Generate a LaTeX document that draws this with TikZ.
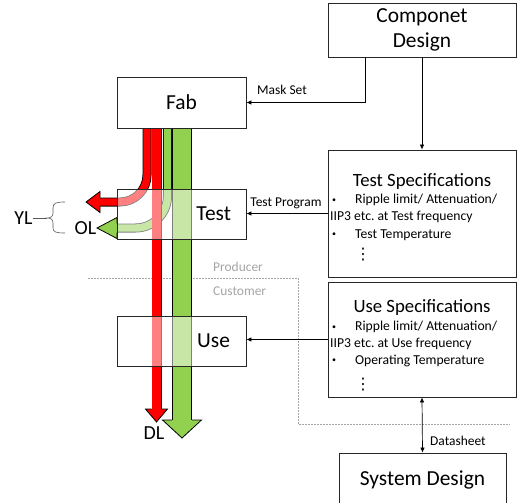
\documentclass[tikz,border=0pt]{standalone}
\usepackage{fontspec}
\setmainfont{Carlito}
\newfontfamily\dotsfont{DejaVu Sans}
\usetikzlibrary{arrows.meta,calc}

\definecolor{flowred}{RGB}{255,0,0}
\definecolor{flowgreen}{RGB}{146,208,80}
\definecolor{splitgray}{RGB}{165,165,165}

% small list bullet followed by the indent of the item text
\newcommand{\itembul}{\makebox[23bp][l]{\raisebox{1.6bp}{\fontsize{8}{8}\selectfont •}}}

\begin{document}
\frenchspacing
\begin{tikzpicture}[x=1bp,y=-1bp,
  box/.style={draw=black!85, line width=0.8bp, fill=white, rectangle, inner sep=0pt, text=black},
  seethru/.style={box, fill opacity=0.5, text opacity=1},
  big/.style={font=\fontsize{21.5}{25}\selectfont},
  spectitle/.style={font=\fontsize{18.8}{22}\selectfont, inner sep=0pt},
  spec/.style={font=\fontsize{13.7}{16}\selectfont, inner sep=0pt, anchor=west},
  vdotsnode/.style={font=\dotsfont\fontsize{16}{16}\selectfont, inner sep=0pt},
  small/.style={font=\fontsize{13.5}{16}\selectfont, inner sep=0pt},
  tag/.style={font=\fontsize{20}{24}\selectfont, inner sep=0pt},
  conn/.style={draw=black, line width=0.7bp, -{Latex[length=5bp,width=4.5bp]}},
  band/.style n args={2}{draw=black, line width=0.8bp, double=#1, double distance=#2},
  headline/.style={draw=black, line width=0.8bp, line join=miter},
]
\useasboundingbox (0,0) rectangle (519,503);
\clip (0,0) rectangle (519,503);

% producer / customer split
\draw[splitgray, line width=0.6bp, dash pattern=on 1.5bp off 1.5bp]
  (88,278) -- (298,278) -- (298,424) -- (510,424);
\node[small, text=splitgray, anchor=west] (prod) at (213,267) {Producer};
\node[small, text=splitgray, anchor=west] (cust) at (213,291) {Customer};

% overkill loss: green band bending out at test
\draw[band={flowgreen}{7.4bp}] (167.5,128) -- (167.5,196)
  arc[start angle=0, end angle=90, radius=32] -- (117,228);
\fill[flowgreen] (117,217.5) -- (97,228) -- (117,238.5) -- cycle;
\draw[headline] (117,223.5) -- (117,217.5) -- (97,228) -- (117,238.5) -- (117,232.5);

% yield loss: red band bending out at test
\draw[band={flowred}{7.4bp}] (147,128) -- (147,175)
  arc[start angle=0, end angle=90, radius=27] -- (100,202);
\fill[flowred] (100,191.5) -- (86,202) -- (100,212.5) -- cycle;
\draw[headline] (100,197.5) -- (100,191.5) -- (86,202) -- (100,212.5) -- (100,206.5);

% defect loss: red band through to the customer
\draw[band={flowred}{8.4bp}] (156.5,128) -- (156.5,409);
\fill[flowred] (145.5,409) -- (156.5,422) -- (167.5,409) -- cycle;
\draw[headline] (151.5,409) -- (145.5,409) -- (156.5,422) -- (167.5,409) -- (161.5,409);

% good parts: wide green band
\draw[band={flowgreen}{18.4bp}] (182,128) -- (182,420);
\fill[flowgreen] (162.5,420) -- (182,438) -- (201.5,420) -- cycle;
\draw[headline] (172,420) -- (162.5,420) -- (182,438) -- (201.5,420) -- (192,420);

% process boxes
\node[box, big, minimum width=129bp, minimum height=51bp] (fab) at (181.5,102.5) {Fab};
\node[seethru, big, minimum width=129bp, minimum height=50bp, text width=99bp, align=right]
  (test) at (181.5,214) {Test};
\node[seethru, big, minimum width=129bp, minimum height=50bp, text width=97bp, align=right]
  (use) at (181.5,341) {Use};

% design and specification boxes
\node[box, big, minimum width=188bp, minimum height=54bp, align=center] (comp) at (422,30)
  {Componet\\Design};
\node[box, minimum width=188bp, minimum height=127bp] (tspec) at (422,213.5) {};
\node[spectitle] (tspectitle) at (422,182) {Test Specifications};
\node[spec] (ts1) at (332,200) {\itembul Ripple limit/ Attenuation/};
\node[spec] (ts2) at (330,217) {IIP3 etc. at Test frequency};
\node[spec] (ts3) at (332,235) {\itembul Test Temperature};
\node[vdotsnode] (ts4) at (363,255) {⋮};

\node[box, minimum width=188bp, minimum height=115bp] (uspec) at (422,339.5) {};
\node[spectitle] (uspectitle) at (422,308) {Use Specifications};
\node[spec] (us1) at (332,327) {\itembul Ripple limit/ Attenuation/};
\node[spec] (us2) at (330,344) {IIP3 etc. at Use frequency};
\node[spec] (us3) at (332,361) {\itembul Operating Temperature};
\node[vdotsnode] (us4) at (363,385) {⋮};

\node[box, big, minimum width=167bp, minimum height=54bp] (sys) at (422.5,480) {System Design};

% connectors
\draw[conn] ($(comp.south)+(-57,0)$) |- (fab.east);
\node[small, anchor=center] (mask) at (282,90) {Mask Set};
\draw[conn] (comp.south) -- (tspec.north);
\draw[conn] (tspec.west) -- (tspec.west -| test.east);
\node[small, anchor=center] (tprog) at (286,203) {Test Program};
\draw[conn] (uspec.west) -- (uspec.west -| use.east);
\draw[draw=black, line width=0.7bp, {Latex[length=5bp,width=4.5bp]}-{Latex[length=5bp,width=4.5bp]}]
  (uspec.south) -- (sys.north);
\node[small, anchor=west] (dsheet) at (430,441) {Datasheet};

% loss labels
\node[tag] (yl) at (23.5,218) {YL};
\node[tag] (ol) at (85.5,228) {OL};
\node[tag] (dl) at (154,433) {DL};
\draw[black!65, line width=0.6bp] (yl.east) -- (47,218);
\draw[black!65, line width=0.6bp]
  (65,202) .. controls (56,202) and (53,203) .. (53,208) -- (53,213)
  .. controls (53,216.5) and (51,218) .. (47,218)
  .. controls (51,218) and (53,219.5) .. (53,223) -- (53,228)
  .. controls (53,232) and (56,233) .. (65,233);
\end{tikzpicture}
\end{document}
